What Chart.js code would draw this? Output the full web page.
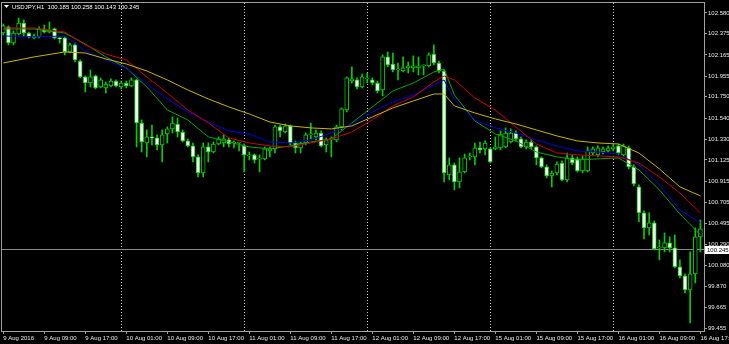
<!DOCTYPE html>
<html>
<head>
<meta charset="utf-8">
<script src="https://cdn.jsdelivr.net/npm/chart.js@4.4.1/dist/chart.umd.min.js"></script>
<style>
  html, body { margin: 0; padding: 0; background: #000; }
  canvas { display: block; background: #000; }
</style>
</head>
<body>
<canvas id="usdjpyChart" width="729" height="344"></canvas>
<script>
// USDJPY H1, 9 Aug 2016 01:00 .. 16 Aug 2016 17:00 (bar index 0..136)
const openP = [
  102.382, 102.442, 102.283, 102.372, 102.481, 102.382, 102.333, 102.343, 102.422, 102.392,
  102.422, 102.333, 102.333, 102.194, 102.264, 102.105, 101.947, 101.887, 101.957, 101.848,
  101.838, 101.858, 101.907, 101.848, 101.887, 101.858, 101.917, 101.491, 101.293, 101.353,
  101.343, 101.274, 101.382, 101.432, 101.481, 101.402, 101.313, 101.264, 101.155, 100.996,
  101.254, 101.204, 101.283, 101.293, 101.323, 101.293, 101.293, 101.264, 101.165, 101.175,
  101.135, 101.135, 101.214, 101.234, 101.452, 101.402, 101.462, 101.293, 101.244, 101.293,
  101.373, 101.353, 101.392, 101.274, 101.323, 101.323, 101.452, 101.620, 101.907, 101.917,
  101.848, 101.927, 101.917, 101.887, 101.818, 102.145, 102.075, 102.016, 102.006, 102.036,
  102.036, 102.036, 102.056, 102.056, 102.174, 102.085, 102.006, 100.977, 101.076, 100.907,
  101.006, 101.155, 101.155, 101.244, 101.234, 101.234, 101.234, 101.244, 101.254, 101.303,
  101.392, 101.333, 101.254, 101.303, 101.254, 101.145, 101.056, 100.967, 100.996, 101.095,
  100.927, 101.145, 101.135, 101.016, 101.016, 101.194, 101.175, 101.204, 101.214, 101.234,
  101.264, 101.175, 101.244, 101.056, 100.858, 100.600, 100.452, 100.501, 100.254, 100.254,
  100.303, 100.254, 100.066, 99.977, 99.838, 99.996, 100.363
];
const highP = [
  102.471, 102.452, 102.402, 102.531, 102.511, 102.392, 102.372, 102.442, 102.461, 102.491,
  102.432, 102.343, 102.343, 102.283, 102.283, 102.115, 101.957, 102.016, 101.967, 101.937,
  101.897, 101.927, 101.917, 101.907, 101.907, 101.937, 101.927, 101.521, 101.422, 101.471,
  101.373, 101.422, 101.452, 101.551, 101.541, 101.422, 101.333, 101.293, 101.175, 101.293,
  101.293, 101.303, 101.353, 101.373, 101.343, 101.313, 101.303, 101.283, 101.204, 101.184,
  101.175, 101.254, 101.254, 101.471, 101.471, 101.481, 101.471, 101.313, 101.303, 101.392,
  101.491, 101.422, 101.412, 101.343, 101.353, 101.471, 101.640, 101.947, 102.046, 101.937,
  101.976, 101.986, 101.937, 101.907, 102.165, 102.194, 102.184, 102.085, 102.145, 102.095,
  102.155, 102.145, 102.066, 102.184, 102.264, 102.105, 102.016, 101.145, 101.095, 101.145,
  101.184, 101.194, 101.293, 101.303, 101.313, 101.244, 101.353, 101.412, 101.442, 101.432,
  101.412, 101.353, 101.323, 101.323, 101.264, 101.155, 101.076, 101.016, 101.105, 101.115,
  101.194, 101.175, 101.155, 101.165, 101.254, 101.254, 101.264, 101.254, 101.264, 101.283,
  101.283, 101.283, 101.264, 101.076, 100.878, 100.620, 100.600, 100.521, 100.333, 100.402,
  100.363, 100.383, 100.135, 99.996, 100.214, 100.452, 100.531
];
const lowP = [
  102.363, 102.264, 102.264, 102.363, 102.353, 102.333, 102.323, 102.333, 102.382, 102.382,
  102.323, 102.283, 102.165, 102.184, 102.095, 101.937, 101.798, 101.848, 101.828, 101.838,
  101.788, 101.848, 101.848, 101.828, 101.838, 101.848, 101.254, 101.204, 101.155, 101.274,
  101.224, 101.105, 101.293, 101.392, 101.353, 101.303, 101.254, 101.105, 100.957, 100.957,
  101.105, 101.194, 101.274, 101.254, 101.254, 101.244, 101.214, 101.006, 101.125, 101.095,
  101.006, 101.125, 101.155, 101.194, 101.353, 101.392, 101.274, 101.194, 101.194, 101.274,
  101.333, 101.323, 101.254, 101.204, 101.155, 101.303, 101.422, 101.600, 101.887, 101.828,
  101.838, 101.887, 101.868, 101.788, 101.759, 102.046, 101.996, 101.917, 101.996, 101.986,
  101.996, 101.967, 101.967, 102.046, 102.066, 101.986, 100.907, 100.927, 100.828, 100.848,
  100.996, 101.125, 101.076, 101.194, 101.175, 101.095, 101.224, 101.224, 101.244, 101.293,
  101.313, 101.244, 101.234, 101.234, 101.076, 101.046, 100.947, 100.858, 100.977, 100.917,
  100.907, 101.076, 101.006, 100.996, 101.006, 101.175, 101.155, 101.184, 101.204, 101.214,
  101.175, 101.155, 101.036, 100.868, 100.511, 100.343, 100.383, 100.234, 100.135, 100.214,
  100.214, 100.056, 99.957, 99.808, 99.511, 99.907, 100.214
];
const closeP = [
  102.452, 102.283, 102.382, 102.481, 102.382, 102.343, 102.353, 102.422, 102.392, 102.412,
  102.333, 102.323, 102.194, 102.264, 102.115, 101.947, 101.887, 101.947, 101.838, 101.917,
  101.877, 101.907, 101.858, 101.887, 101.858, 101.917, 101.491, 101.303, 101.353, 101.343,
  101.274, 101.373, 101.432, 101.491, 101.402, 101.313, 101.264, 101.155, 100.996, 101.254,
  101.204, 101.283, 101.333, 101.333, 101.283, 101.293, 101.293, 101.175, 101.175, 101.125,
  101.135, 101.234, 101.234, 101.452, 101.412, 101.462, 101.293, 101.244, 101.293, 101.373,
  101.373, 101.392, 101.264, 101.323, 101.323, 101.452, 101.630, 101.937, 101.927, 101.848,
  101.947, 101.927, 101.887, 101.808, 102.145, 102.066, 102.016, 102.016, 102.036, 102.056,
  102.056, 102.056, 102.056, 102.165, 102.085, 102.006, 100.996, 101.076, 100.907, 101.006,
  101.145, 101.155, 101.244, 101.224, 101.293, 101.105, 101.254, 101.382, 101.392, 101.392,
  101.333, 101.254, 101.303, 101.254, 101.145, 101.056, 100.967, 100.996, 101.085, 100.927,
  101.145, 101.095, 101.016, 101.135, 101.214, 101.234, 101.244, 101.234, 101.244, 101.254,
  101.194, 101.264, 101.056, 100.887, 100.600, 100.452, 100.501, 100.244, 100.254, 100.303,
  100.254, 100.066, 99.977, 99.838, 99.996, 100.363, 100.442
];

// moving averages, read at these bar indices
const maIdx = [0, 6, 12, 16, 20, 24, 28, 32, 36, 40, 44, 48, 52, 56, 60, 64, 68, 72, 76, 80,
  84, 86, 88, 92, 96, 100, 104, 108, 112, 116, 120, 124, 128, 132, 136];
const maGreen = [102.422, 102.422, 102.382, 102.273, 102.145, 102.036, 101.848, 101.620, 101.521, 101.353,
  101.303, 101.254, 101.234, 101.264, 101.303, 101.333, 101.491, 101.650, 101.808, 101.887,
  101.996, 102.026, 101.769, 101.511, 101.382, 101.313, 101.204, 101.155, 101.125, 101.135,
  101.145, 101.026, 100.828, 100.590, 100.383];
const maBlue = [102.353, 102.343, 102.353, 102.204, 102.115, 102.036, 101.877, 101.729, 101.600, 101.501,
  101.412, 101.382, 101.303, 101.293, 101.323, 101.392, 101.481, 101.600, 101.699, 101.769,
  101.868, 101.917, 101.719, 101.521, 101.442, 101.392, 101.323, 101.264, 101.214, 101.204,
  101.184, 101.076, 100.878, 100.630, 100.501];
const maRed = [102.432, 102.432, 102.392, 102.264, 102.174, 102.115, 101.947, 101.788, 101.620, 101.491,
  101.343, 101.293, 101.264, 101.254, 101.293, 101.333, 101.402, 101.521, 101.660, 101.749,
  101.897, 101.957, 101.917, 101.739, 101.620, 101.452, 101.283, 101.194, 101.175, 101.165,
  101.155, 101.095, 100.957, 100.798, 100.600];
const maYellow = [102.085, 102.145, 102.194, 102.184, 102.125, 102.075, 102.006, 101.917, 101.818, 101.729,
  101.650, 101.580, 101.501, 101.462, 101.442, 101.432, 101.462, 101.551, 101.640, 101.709,
  101.778, 101.778, 101.660, 101.590, 101.531, 101.481, 101.422, 101.363, 101.313, 101.293,
  101.283, 101.194, 101.036, 100.858, 100.769];

const xTickIdx = [0, 8, 16, 24, 32, 40, 48, 56, 64, 72, 80, 88, 96, 104, 112, 120, 128, 136];
const xTickLabels = ['9 Aug 2016', '9 Aug 09:00', '9 Aug 17:00', '10 Aug 01:00', '10 Aug 09:00',
  '10 Aug 17:00', '11 Aug 01:00', '11 Aug 09:00', '11 Aug 17:00', '12 Aug 01:00', '12 Aug 09:00',
  '12 Aug 17:00', '15 Aug 01:00', '15 Aug 09:00', '15 Aug 17:00', '16 Aug 01:00', '16 Aug 09:00',
  '16 Aug 17:00'];
const daySeparators = [23, 47, 71, 95, 119];
const yTickValues = [102.580, 102.375, 102.165, 101.955, 101.750, 101.540, 101.330, 101.125,
  100.915, 100.705, 100.495, 100.290, 100.080, 99.870, 99.665, 99.455];
const bidPrice = 100.245;
const headerText = 'USDJPY,H1  100.185 100.258 100.143 100.245';

const FONT = 'Liberation Sans';
Chart.defaults.font.family = FONT;
Chart.defaults.font.size = 6;

const candleGreen = '#00d000';
const frameGray = '#a0a0a0';

const mtOverlay = {
  id: 'mtOverlay',
  beforeDraw(chart) {
    const ctx = chart.ctx;
    ctx.save();
    ctx.fillStyle = '#000';
    ctx.fillRect(0, 0, chart.width, chart.height);
    ctx.restore();
  },
  beforeDatasetsDraw(chart) {
    const { ctx, chartArea: a, scales } = chart;
    ctx.save();
    ctx.lineWidth = 1;
    ctx.strokeStyle = '#c8c8c8';
    ctx.setLineDash([1, 2]);
    daySeparators.forEach(d => {
      const x = Math.round(scales.x.getPixelForValue(d)) + 0.5;
      ctx.beginPath();
      ctx.moveTo(x, a.top);
      ctx.lineTo(x, a.bottom);
      ctx.stroke();
    });
    ctx.setLineDash([]);
    const yb = Math.round(scales.y.getPixelForValue(bidPrice)) + 0.5;
    ctx.strokeStyle = '#888';
    ctx.beginPath();
    ctx.moveTo(a.left, yb);
    ctx.lineTo(a.right, yb);
    ctx.stroke();
    ctx.restore();
  },
  afterDraw(chart) {
    const { ctx, chartArea: a, scales } = chart;
    ctx.save();
    // frame
    ctx.strokeStyle = frameGray;
    ctx.lineWidth = 1;
    ctx.strokeRect(Math.round(a.left) - 0.5, Math.round(a.top) - 0.5,
      Math.round(a.right - a.left) + 1, Math.round(a.bottom - a.top) + 1);
    // bid label
    const yb = Math.round(scales.y.getPixelForValue(bidPrice));
    ctx.fillStyle = '#fff';
    ctx.fillRect(a.right + 1, yb - 3, chart.width - a.right - 1, 8);
    ctx.fillStyle = '#000';
    ctx.font = '6px "' + FONT + '"';
    ctx.textBaseline = 'middle';
    ctx.fillText(bidPrice.toFixed(3), a.right + 3, yb + 1);
    // header
    ctx.fillStyle = '#fff';
    ctx.beginPath();
    ctx.moveTo(4, 5);
    ctx.lineTo(9, 5);
    ctx.lineTo(6.5, 8);
    ctx.closePath();
    ctx.fill();
    ctx.fillText(headerText, 12, 7);
    ctx.restore();
  }
};

const bodies = closeP.map((c, i) => ({ x: i, y: [openP[i], c] }));
const bodyFill = closeP.map((c, i) => (c < openP[i] ? '#ffffff' : '#000000'));
const wicks = lowP.map((l, i) => ({ x: i, y: [l, highP[i]] }));
const maLine = arr => maIdx.map((v, k) => ({ x: v, y: arr[k] }));

const ctx = document.getElementById('usdjpyChart').getContext('2d');
const usdjpyChart = new Chart(ctx, {
  type: 'bar',
  data: {
    datasets: [
      { type: 'line', label: 'MA slow', data: maLine(maYellow), borderColor: '#c8b400',
        borderWidth: 1, pointRadius: 0, fill: false, tension: 0, order: 1 },
      { type: 'line', label: 'MA 3', data: maLine(maRed), borderColor: '#d00000',
        borderWidth: 1, pointRadius: 0, fill: false, tension: 0, order: 1 },
      { type: 'line', label: 'MA 2', data: maLine(maBlue), borderColor: '#0000e0',
        borderWidth: 1, pointRadius: 0, fill: false, tension: 0, order: 1 },
      { type: 'line', label: 'MA fast', data: maLine(maGreen), borderColor: '#00a800',
        borderWidth: 1, pointRadius: 0, fill: false, tension: 0, order: 1 },
      { label: 'body', data: bodies, backgroundColor: bodyFill, borderColor: candleGreen,
        borderWidth: 1, borderSkipped: false, barThickness: 4, minBarLength: 1,
        grouped: false, order: 3 },
      { label: 'wick', data: wicks, backgroundColor: candleGreen, borderWidth: 0,
        barThickness: 1, grouped: false, order: 4 }
    ]
  },
  options: {
    responsive: false,
    animation: false,
    layout: { padding: { left: 2, top: 3, right: 0, bottom: 0 } },
    plugins: { legend: { display: false }, tooltip: { enabled: false } },
    scales: {
      x: {
        type: 'linear', min: -0.25, max: 136.7, offset: false,
        afterBuildTicks: s => { s.ticks = xTickIdx.map(v => ({ value: v })); },
        afterFit: s => { s.height = 13; s.paddingLeft = 0; s.paddingRight = 0; },
        ticks: { autoSkip: false, maxRotation: 0, align: 'start', padding: 1,
          color: '#e8e8e8', callback: (v, i) => xTickLabels[i] },
        grid: { drawOnChartArea: false, drawTicks: true, tickLength: 3, color: frameGray, offset: false },
        border: { display: false }
      },
      y: {
        type: 'linear', position: 'right', min: 99.431, max: 102.679,
        afterBuildTicks: s => { s.ticks = yTickValues.map(v => ({ value: v })); },
        afterFit: s => { s.width = 25; s.paddingTop = 0; s.paddingBottom = 0; },
        ticks: { padding: 1, color: '#e8e8e8', callback: v => v.toFixed(3) },
        grid: { drawOnChartArea: false, tickLength: 3, color: frameGray },
        border: { display: false }
      }
    }
  },
  plugins: [mtOverlay]
});
</script>
</body>
</html>
